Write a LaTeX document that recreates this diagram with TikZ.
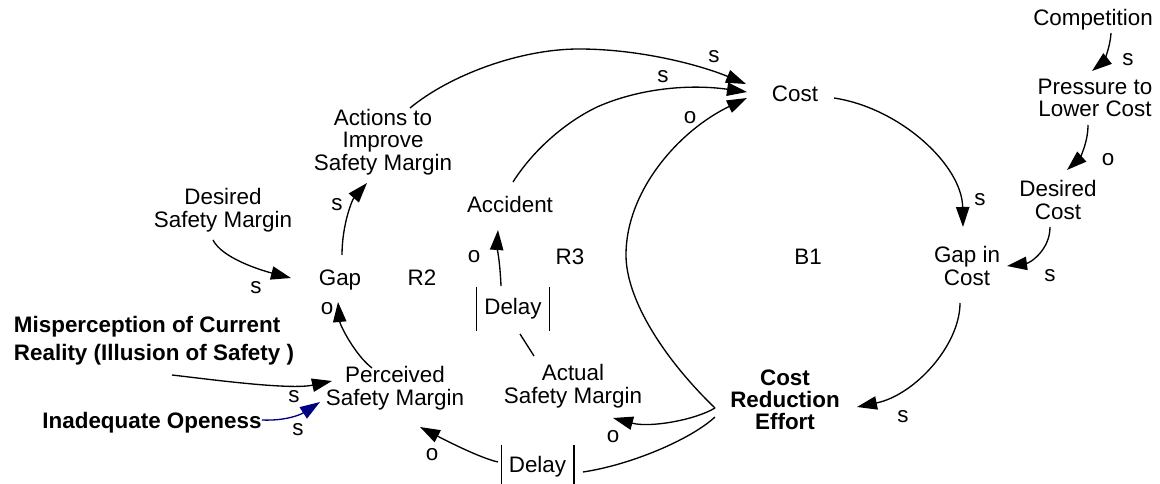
\documentclass[tikz,border=0pt]{standalone}
\usepackage{fontspec}
\setmainfont{Liberation Sans}
\usetikzlibrary{arrows.meta}
\definecolor{linkblue}{RGB}{0,0,128}
\begin{document}
\begin{tikzpicture}[x=0.75pt,y=-0.75pt,
  every node/.style={inner sep=0pt, align=center,
    font=\fontsize{16.8pt}{16.9pt}\selectfont},
  boldvar/.style={font=\fontsize{16.8pt}{16.5pt}\selectfont\bfseries},
  link/.style={line width=1pt, -{Triangle[length=15pt,width=10pt]}},
  plainlink/.style={line width=1pt},
  delaybox/.style={minimum width=54pt, minimum height=33pt},
  bar/.style={line width=1.1pt}]
\useasboundingbox (0,0) rectangle (1160,484);

% variables
\node (competition) at (1093,20) {Competition};
\node (pressure) at (1095,98) {Pressure to\\Lower Cost};
\node (desiredcost) at (1058,200) {Desired\\Cost};
\node (gapcost) at (967,266) {Gap in\\Cost};
\node (cost) at (795,94) {Cost};
\node[boldvar] (cre) at (785,400) {Cost\\Reduction\\Effort};
\node (actions) at (383,142) {Actions to\\Improve\\Safety Margin};
\node (desiredsm) at (223,210) {Desired\\Safety Margin};
\node (gap) at (340,280) {Gap};
\node (accident) at (510,204) {Accident};
\node (actual) at (573,386) {Actual\\Safety Margin};
\node (perceived) at (395,388) {Perceived\\Safety Margin};
\node[boldvar, align=left, font=\fontsize{16.8pt}{21pt}\selectfont\bfseries]
  (misperception) at (154,341) {Misperception of Current\\Reality (Illusion of Safety )};
\node[boldvar] (inadequate) at (152,423) {Inadequate Openess};

% loop labels
\node (b1) at (808,257) {B1};
\node (r2) at (422,278) {R2};
\node (r3) at (570,257) {R3};

% delays
\node[delaybox] (delayA) at (513,309) {Delay};
\draw[bar] (delayA.north west) -- (delayA.south west)
           (delayA.north east) -- (delayA.south east);
\node[delaybox] (delayB) at (537.5,467) {Delay};
\draw[bar] (delayB.north west) -- (delayB.south west)
           (delayB.north east) -- (delayB.south east);

% causal links
\draw[link] ([shift={(18,13)}]competition.center) .. controls (1110,50) and (1102,63) .. ([shift={(-3,-27)}]pressure.center);
\draw[link] ([shift={(-7,27)}]pressure.center) .. controls (1088,145) and (1078,160) .. ([shift={(9,-30)}]desiredcost.center);
\draw[link] ([shift={(-8,27)}]desiredcost.center) .. controls (1050,250) and (1030,263) .. ([shift={(40,0)}]gapcost.center);
\draw[link] ([shift={(39,4)}]cost.center) .. controls (900,108) and (962,165) .. ([shift={(-4,-39)}]gapcost.center);
\draw[link] ([shift={(-7,37)}]gapcost.center) .. controls (960,345) and (915,395) .. ([shift={(72,7)}]cre.center);
\draw[link] ([shift={(-70,8)}]cre.center) .. controls (665,360) and (626,300) .. (626,255)
            .. controls (626,190) and (680,130) .. ([shift={(-48,4)}]cost.center);
\draw[link] ([shift={(27,-34)}]actions.center) .. controls (450,75) and (520,49) .. (579,49)
            .. controls (640,49) and (700,65) .. ([shift={(-49,-10)}]cost.center);
\draw[link] ([shift={(3,-22)}]accident.center) .. controls (530,155) and (560,125) .. (597,107)
            .. controls (640,88) and (690,84) .. ([shift={(-48,-2)}]cost.center);
\draw[link] ([shift={(-12,-23)}]delayA.center) .. controls (500,262) and (497,245) .. ([shift={(-12,26)}]accident.center);
\draw[plainlink] ([shift={(-39,-30)}]actual.center) -- ([shift={(7,25)}]delayA.center);
\draw[link] ([shift={(-70,8)}]cre.center) .. controls (695,420) and (650,428) .. ([shift={(40,32)}]actual.center);
\draw[plainlink] ([shift={(-70,17)}]cre.center) .. controls (690,440) and (630,465) .. ([shift={(45.5,5)}]delayB.center);
\draw[link] ([shift={(-39.5,-5)}]delayB.center) .. controls (480,458) and (445,440) .. ([shift={(25,39)}]perceived.center);
\draw[link] ([shift={(-23,-20)}]perceived.center) .. controls (355,355) and (340,325) .. ([shift={(-2,22)}]gap.center);
\draw[link] ([shift={(2,-25)}]gap.center) .. controls (342,225) and (352,200) .. ([shift={(-16,41)}]actions.center);
\draw[link] ([shift={(-10,30)}]desiredsm.center) .. controls (222,258) and (260,270) .. ([shift={(-49,-2)}]gap.center);
\draw[link] ([shift={(18,34)}]misperception.center) .. controls (215,380) and (290,390) .. ([shift={(-63,-7)}]perceived.center);
\draw[link, linkblue] ([shift={(110,-3)}]inadequate.center) .. controls (285,421) and (300,415) .. ([shift={(-75,14)}]perceived.center);

% link polarities
\node (sA) at (714,57) {s};
\node (sB) at (663,77) {s};
\node (oA) at (690,118) {o};
\node (sC) at (980,200) {s};
\node (sD) at (1128,60) {s};
\node (oB) at (1108,160) {o};
\node (sE) at (1050,276) {s};
\node (sF) at (903,417) {s};
\node (oC) at (613,437) {o};
\node (oD) at (432,455) {o};
\node (sG) at (294,397) {s};
\node (sH) at (298,430) {s};
\node (oE) at (327,309) {o};
\node (sI) at (256,288) {s};
\node (sJ) at (337,205) {s};
\node (oF) at (474,257) {o};
\end{tikzpicture}
\end{document}
